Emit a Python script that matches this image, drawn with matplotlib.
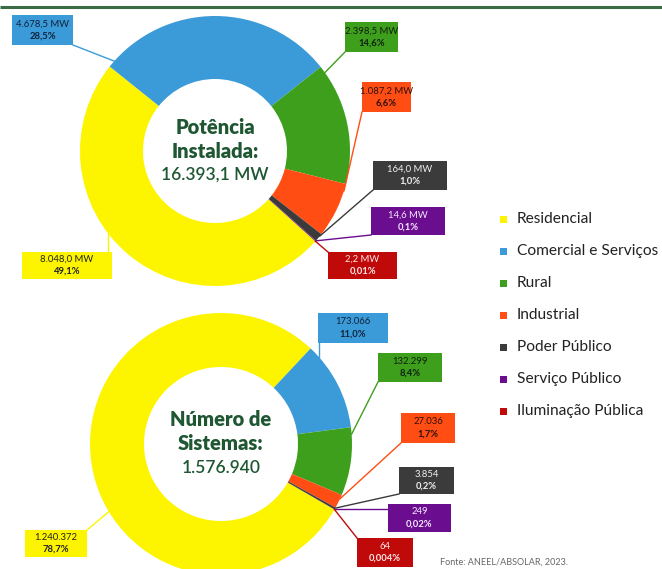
import numpy as np
import matplotlib
matplotlib.use("Agg")
import matplotlib.pyplot as plt
from matplotlib.patches import Rectangle

W, H = 662, 569

categories = ["Residencial", "Comercial e Serviços", "Rural", "Industrial",
              "Poder Público", "Serviço Público", "Iluminação Pública"]
colors = ["#fdf500", "#3b9ad8", "#3d9f1c", "#ff4d14", "#3b3b3b", "#6b0d8f", "#c00a0a"]
text_colors = ["#222222", "#10233a", "#102010", "#301008", "#f0f0f0", "#f4e8ff", "#ffe8e8"]

# Installed power (MW)
power_mw = [8048.0, 4678.5, 2398.5, 1087.2, 164.0, 14.6, 2.2]
power_pct = ["49,1%", "28,5%", "14,6%", "6,6%", "1,0%", "0,1%", "0,01%"]
power_total = "16.393,1 MW"

# Number of systems
systems = [1240372, 173066, 132299, 27036, 3854, 249, 64]
systems_pct = ["78,7%", "11,0%", "8,4%", "1,7%", "0,2%", "0,02%", "0,004%"]
systems_total = "1.576.940"

FONT = "Lato"
TITLE_GREEN = "#1f5733"


def br_number(v, decimals=0):
    s = f"{v:,.{decimals}f}"
    return s.replace(",", "X").replace(".", ",").replace("X", ".")


def Y(y):
    return H - y


fig = plt.figure(figsize=(W / 100, H / 100), dpi=100)
ax = fig.add_axes([0, 0, 1, 1])


def donut(values, center, r_out, r_in, start):
    cx, cy = center
    wedges, _ = ax.pie(values, colors=colors, startangle=start, counterclock=False,
                       radius=r_out, center=(cx, Y(cy)),
                       wedgeprops=dict(width=r_out - r_in, linewidth=0))
    return wedges


def leader_and_box(wedges, center, r_out, boxes, val_labels, pct_labels):
    cx, cy = center
    for i, w in enumerate(wedges):
        x0, y0, x1, y1 = boxes[i]
        bx, by = (x0 + x1) / 2, (y0 + y1) / 2
        t1, t2 = sorted((w.theta1, w.theta2))
        # direction of the box seen from the donut centre, kept inside the wedge
        ang = np.degrees(np.arctan2(cy - by, bx - cx))
        mid = (t1 + t2) / 2
        ang = (ang - mid + 180) % 360 - 180 + mid
        span = t2 - t1
        m = min(3.0, span * 0.3)
        ang = np.clip(ang, t1 + m, t2 - m) if span > 2 * m else mid
        px = cx + r_out * np.cos(np.radians(ang))
        py = cy - r_out * np.sin(np.radians(ang))
        qx = np.clip(px, x0, x1)
        qy = np.clip(py, y0, y1)
        ax.plot([px, qx], [Y(py), Y(qy)], color=colors[i], lw=1.0, zorder=3)
        ax.add_patch(Rectangle((x0, Y(y1)), x1 - x0, y1 - y0, facecolor=colors[i],
                               edgecolor="none", zorder=4))
        ax.text(bx, Y(by - 6), val_labels[i], ha="center", va="center", fontsize=6.8,
                family=FONT, color=text_colors[i], zorder=5)
        ax.text(bx, Y(by + 6), pct_labels[i], ha="center", va="center", fontsize=6.8,
                family=FONT, fontweight="bold", color=text_colors[i], zorder=5)


# --- Installed power donut ---
c1 = (215, 151)
w1 = donut(power_mw, c1, 135, 72, -42)
boxes1 = [(22, 252, 112, 279), (12, 15, 73, 45), (345, 22, 398, 52), (362, 82, 411, 112),
          (373, 161, 447, 190), (371, 207, 445, 235), (328, 252, 397, 279)]
leader_and_box(w1, c1, 135, boxes1, [br_number(v, 1) + " MW" for v in power_mw], power_pct)
ax.text(c1[0], Y(127), "Potência", ha="center", va="center", fontsize=14.5,
        fontweight="heavy", family=FONT, color=TITLE_GREEN)
ax.text(c1[0], Y(151), "Instalada:", ha="center", va="center", fontsize=14.5,
        fontweight="heavy", family=FONT, color=TITLE_GREEN)
ax.text(c1[0], Y(175), power_total, ha="center", va="center", fontsize=12.5,
        fontweight="semibold", family=FONT, color=TITLE_GREEN)

# --- Number of systems donut ---
c2 = (221, 444)
w2 = donut(systems, c2, 131, 77, -30)
boxes2 = [(25, 530, 87, 557), (318, 313, 388, 343), (378, 353, 442, 382), (401, 413, 455, 443),
          (399, 467, 454, 494), (388, 504, 451, 532), (357, 538, 413, 567)]
leader_and_box(w2, c2, 131, boxes2, [br_number(v) for v in systems], systems_pct)
ax.text(c2[0], Y(420), "Número de", ha="center", va="center", fontsize=14.5,
        fontweight="heavy", family=FONT, color=TITLE_GREEN)
ax.text(c2[0], Y(444), "Sistemas:", ha="center", va="center", fontsize=14.5,
        fontweight="heavy", family=FONT, color=TITLE_GREEN)
ax.text(c2[0], Y(468), systems_total, ha="center", va="center", fontsize=12.5,
        fontweight="semibold", family=FONT, color=TITLE_GREEN)

# --- Legend ---
for i, name in enumerate(categories):
    ly = 219 + 32 * i
    ax.add_patch(Rectangle((500, Y(ly + 3.5)), 7, 7, facecolor=colors[i], edgecolor="none"))
    ax.text(517, Y(ly), name, ha="left", va="center", fontsize=11.2, family=FONT,
            color="#222222")

# --- Header rule and source ---
ax.plot([0, W], [Y(7), Y(7)], color="#3b6b45", lw=2.2, solid_capstyle="butt")
ax.text(440, Y(562), "Fonte: ANEEL/ABSOLAR, 2023.", ha="left", va="center",
        fontsize=6.5, family=FONT, color="#666666")

ax.set_xlim(0, W)
ax.set_ylim(0, H)
ax.set_aspect("auto")
ax.axis("off")
fig.savefig("out.png", dpi=100, facecolor="white")
